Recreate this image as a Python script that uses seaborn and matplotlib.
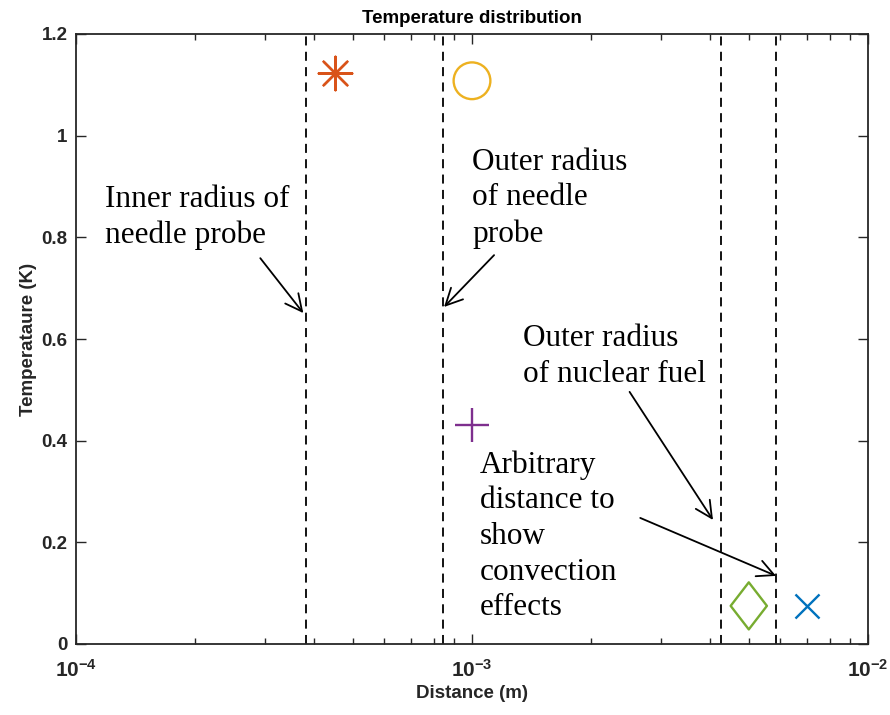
import numpy as np
import pandas as pd
import matplotlib
matplotlib.use("Agg")
import matplotlib.pyplot as plt
from matplotlib.path import Path
import seaborn as sns

# ---------------- data ----------------
series_names = ["x", "asterisk", "circle", "plus", "diamond"]
series_x = [7.0e-3, 4.5e-4, 1.0e-3, 1.0e-3, 5.0e-3]
series_y = [0.075, 1.123, 1.108, 0.431, 0.075]
series_colors = ["#0072BD", "#D95319", "#EDB120", "#7E2F8E", "#77AC30"]

boundary_x = [3.8e-4, 8.45e-4, 4.25e-3, 5.86e-3]

x_ticks = [1e-4, 1e-3, 1e-2]
x_tick_labels = [r"$\mathbf{10^{-4}}$", r"$\mathbf{10^{-3}}$", r"$\mathbf{10^{-2}}$"]
y_ticks = [0, 0.2, 0.4, 0.6, 0.8, 1.0, 1.2]
y_tick_labels = ["0", "0.2", "0.4", "0.6", "0.8", "1", "1.2"]

note_texts = ["Inner radius of\nneedle probe",
              "Outer radius\nof needle\nprobe",
              "Outer radius\nof nuclear fuel",
              "Arbitrary\ndistance to\nshow\nconvection\neffects"]
note_text_xy = [(1.184e-4, 0.903), (1.0e-3, 0.976), (1.345e-3, 0.629), (1.048e-3, 0.381)]
arrow_start = [(2.92e-4, 0.759), (1.137e-3, 0.765), (2.5e-3, 0.496), (2.66e-3, 0.248)]
arrow_end = [(3.75e-4, 0.651), (8.5e-4, 0.663), (4.06e-3, 0.244), (5.86e-3, 0.134)]

title_text = "Temperature distribution"
x_label = "Distance (m)"
y_label = "Temperataure (K)"

# ---------------- style ----------------
sns.set_style("ticks")
plt.rcParams["font.family"] = ["Liberation Sans", "DejaVu Sans"]
plt.rcParams["mathtext.fontset"] = "custom"
plt.rcParams["mathtext.bf"] = "Liberation Sans:bold"
plt.rcParams["mathtext.rm"] = "Liberation Sans"

fig = plt.figure(figsize=(8.9, 7.15), dpi=100)
ax = fig.add_axes([76 / 890, 1 - 644 / 715, (868 - 76) / 890, (644 - 34) / 715])

diamond = Path([(0, 1), (0.77, 0), (0, -1), (-0.77, 0), (0, 1)],
               [Path.MOVETO, Path.LINETO, Path.LINETO, Path.LINETO, Path.CLOSEPOLY])
marker_map = {"x": "x", "asterisk": (8, 2, 0), "circle": "o", "plus": "+", "diamond": diamond}
size_map = {"x": 300, "asterisk": 580, "circle": 700, "plus": 620, "diamond": 1150}

df = pd.DataFrame({"name": series_names, "x": series_x, "y": series_y, "color": series_colors})
for _, row in df.iterrows():
    sub = df[df["name"] == row["name"]]
    m = marker_map[row["name"]]
    kw = dict(color=row["color"], linewidth=1.7, s=size_map[row["name"]], marker=m, zorder=3)
    if row["name"] in ("circle", "diamond"):
        kw.update(facecolor="none", edgecolor=row["color"])
    sns.scatterplot(data=sub, x="x", y="y", ax=ax, legend=False, **kw)

for bx in boundary_x:
    ax.axvline(bx, color="black", lw=1.3, ls=(0, (5, 3.5)), zorder=2)

for txt, (tx, ty), st, en in zip(note_texts, note_text_xy, arrow_start, arrow_end):
    ax.text(tx, ty, txt, family="Liberation Serif", fontsize=22.5, va="top", ha="left",
            linespacing=1.3, color="black", zorder=4)
    ax.annotate("", xy=en, xytext=st,
                arrowprops=dict(arrowstyle="->", color="black", lw=1.3,
                                mutation_scale=30, shrinkA=0, shrinkB=0))

ax.set_xscale("log")
ax.set_xlim(1e-4, 1e-2)
ax.set_ylim(0, 1.2)
ax.set_xticks(x_ticks)
ax.set_xticklabels(x_tick_labels)
ax.set_yticks(y_ticks)
ax.set_yticklabels(y_tick_labels)
ax.xaxis.set_minor_locator(matplotlib.ticker.LogLocator(base=10, subs=np.arange(2, 10)))
ax.xaxis.set_minor_formatter(matplotlib.ticker.NullFormatter())

for sp in ax.spines.values():
    sp.set_color("#262626")
    sp.set_linewidth(1.3)
ax.tick_params(which="both", direction="in", top=True, right=True, color="#262626",
               width=1.0, labelcolor="#262626")
ax.tick_params(which="major", length=7)
ax.tick_params(which="minor", length=4)
ax.tick_params(axis="y", labelsize=13.5, pad=6)
ax.tick_params(axis="x", labelsize=15, pad=11)
for lab in ax.get_yticklabels():
    lab.set_fontweight("bold")

ax.set_title(title_text, fontsize=13.5, fontweight="bold", color="black", pad=8)
ax.set_xlabel(x_label, fontsize=13.5, fontweight="bold", color="#262626", labelpad=3)
ax.set_ylabel(y_label, fontsize=13.5, fontweight="bold", color="#262626", labelpad=3)

fig.savefig("out.png", dpi=100)
